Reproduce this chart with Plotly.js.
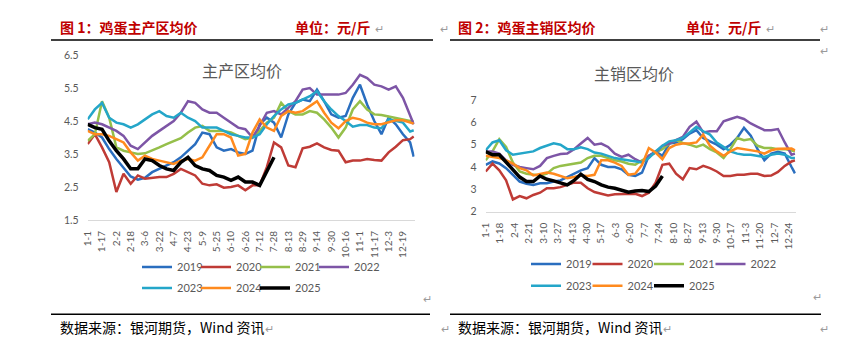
<!DOCTYPE html>
<html><head><meta charset="utf-8">
<script src="https://cdn.plot.ly/plotly-3.0.1.min.js"></script>
<style>html,body{margin:0;padding:0;background:#fff;}#chart{width:848px;height:349px;}</style>
</head><body><div id="chart"></div>
<script>
// ---- data ----
const dates = ['1-1','1-9','1-17','1-25','2-2','2-10','2-18','2-26','3-6','3-14','3-22','3-30','4-7','4-15','4-23','5-1','5-9','5-17','5-25','6-2','6-10','6-18','6-26','7-4','7-12','7-20','7-28','8-5','8-13','8-21','8-29','9-6','9-14','9-22','9-30','10-8','10-16','10-24','11-1','11-9','11-17','11-25','12-3','12-11','12-19','12-27','12-31'];
const years = ['2019','2020','2021','2022','2023','2024','2025'];
const ticks1 = ['1-1','1-17','2-2','2-18','3-6','3-22','4-7','4-23','5-9','5-25','6-10','6-26','7-12','7-28','8-13','8-29','9-14','9-30','10-16','11-1','11-17','12-3','12-19'];
const ticks2 = ['1-1','1-18','2-4','2-21','3-10','3-27','4-13','4-30','5-17','6-3','6-20','7-7','7-24','8-10','8-27','9-13','9-30','10-17','11-3','11-20','12-7','12-24'];
const yticks1 = [1.5,2.5,3.5,4.5,5.5,6.5];
const yticks2 = [2,3,4,5,6,7];

// 主产区均价
const prod2019 = [4.25,4.15,4.0,3.65,3.35,3.1,2.82,2.72,2.78,2.95,3.05,3.15,3.25,3.4,3.6,3.8,4.15,4.1,3.7,3.6,3.65,3.55,3.5,3.6,4.4,4.6,4.45,4.0,4.7,5.05,5.15,5.1,5.45,5.1,4.7,4.6,4.65,5.2,5.6,5.0,4.5,4.1,4.6,4.4,4.1,3.85,3.42];
const prod2020 = [3.8,4.1,3.7,3.25,2.35,2.9,2.6,2.85,2.75,2.78,2.8,2.8,2.9,3.05,2.95,2.85,2.6,2.55,2.58,2.48,2.5,2.55,2.4,2.55,2.55,3.1,3.85,3.7,3.15,3.1,3.67,3.72,3.82,3.7,3.62,3.6,3.25,3.3,3.3,3.35,3.32,3.3,3.55,3.72,3.92,3.95,4.03];
const prod2021 = [3.9,4.1,5.1,4.6,3.7,3.6,3.55,3.5,3.52,3.6,3.7,3.8,3.9,3.98,4.15,4.3,4.35,4.2,4.2,4.2,4.15,4.05,3.95,4.0,4.2,4.45,4.6,5.05,4.8,4.7,4.7,4.8,4.75,4.55,4.3,4.0,4.3,4.85,5.1,4.85,4.7,4.68,4.63,4.6,4.55,4.5,4.48];
const prod2022 = [4.4,4.45,4.4,4.3,4.2,4.05,3.75,3.65,3.85,4.05,4.2,4.35,4.5,4.75,5.1,5.05,4.85,4.75,4.75,4.6,4.45,4.3,4.25,4.0,4.35,4.75,4.8,4.7,4.9,5.1,5.45,5.5,5.3,5.3,5.3,5.3,5.35,5.6,5.9,5.8,5.6,5.55,5.45,5.55,5.2,4.7,4.4];
const prod2023 = [4.55,4.85,5.05,4.6,4.45,4.4,4.3,4.4,4.55,4.7,4.8,4.65,4.6,4.75,4.6,4.5,4.3,4.3,4.3,4.2,4.1,4.05,4.0,4.0,4.1,4.4,4.65,4.85,5.0,5.05,5.15,5.25,5.4,5.1,4.85,4.65,4.5,4.33,4.38,4.38,4.3,4.28,4.55,4.5,4.45,4.18,4.22];
const prod2024 = [4.2,4.1,4.1,4.05,3.95,3.85,3.55,3.3,3.45,3.35,3.3,3.25,3.2,3.3,3.35,3.3,3.4,3.75,4.1,4.1,4.0,3.45,3.5,4.15,4.55,4.3,4.2,4.65,4.8,4.75,4.8,4.95,5.1,4.75,4.45,4.28,4.5,4.6,4.55,4.45,4.4,4.4,4.45,4.52,4.52,4.45,4.42];
const prod2025 = [4.4,4.3,4.25,3.9,3.6,3.35,3.05,3.05,3.35,3.3,3.15,3.05,3.0,3.25,3.4,3.15,3.05,3.0,2.85,2.8,2.7,2.8,2.65,2.65,2.55,2.95,3.4];

// 主销区均价
const sale2019 = [4.1,4.25,4.16,3.95,3.65,3.35,3.25,3.2,3.27,3.27,3.35,3.4,3.55,3.7,3.85,3.95,4.4,4.1,4.0,4.0,3.9,3.65,3.6,3.75,4.5,4.7,4.5,5.05,5.1,5.25,5.5,5.65,5.3,5.15,5.0,4.8,5.0,5.3,5.75,5.4,4.8,4.3,4.6,4.68,4.6,4.0,3.72];
const sale2020 = [3.8,4.15,3.85,3.4,2.55,2.7,2.6,2.75,2.85,3.05,3.05,3.1,3.2,3.3,3.3,3.05,2.88,2.8,2.73,2.78,2.78,2.78,2.8,2.7,2.85,3.3,4.1,4.15,3.7,3.45,3.95,3.9,4.05,3.95,3.8,3.6,3.6,3.65,3.65,3.7,3.7,3.6,3.62,3.78,4.05,4.25,4.3];
const sale2021 = [4.3,4.7,5.25,4.9,4.2,3.8,3.7,3.65,3.62,3.7,3.95,4.05,4.1,4.15,4.2,4.4,4.5,4.5,4.4,4.3,4.25,4.15,4.1,4.3,4.45,4.65,4.8,5.05,5.2,5.08,5.0,4.9,5.0,4.8,4.65,4.4,4.8,5.3,5.2,5.25,4.95,4.85,4.85,4.8,4.8,4.75,4.7];
const sale2022 = [4.7,4.7,4.6,4.3,4.1,4.0,3.95,3.9,4.05,4.4,4.5,4.58,4.6,4.8,5.05,5.3,5.0,5.05,4.9,4.6,4.45,4.55,4.35,4.2,4.5,4.65,4.95,5.05,5.2,5.35,5.8,6.03,5.55,5.6,5.6,6.05,6.15,6.25,6.15,5.95,5.8,5.65,5.65,5.7,5.1,4.55,4.6];
const sale2023 = [4.75,5.1,5.2,4.75,4.55,4.6,4.62,4.7,4.85,4.95,5.06,5.0,4.8,4.8,4.88,4.8,4.65,4.6,4.5,4.4,4.35,4.3,4.25,4.2,4.4,4.7,4.95,5.15,5.2,5.3,5.55,5.8,5.6,5.45,5.1,4.9,4.7,4.6,4.55,4.55,4.5,4.45,4.55,4.6,4.55,4.4,4.4];
const sale2024 = [4.5,4.45,4.4,4.3,4.15,3.95,3.85,3.62,3.7,3.75,3.7,3.6,3.5,3.55,3.62,3.6,3.65,4.3,4.3,4.2,4.05,3.65,3.7,4.1,4.85,4.65,4.35,4.85,5.0,5.05,5.05,5.1,5.45,4.95,4.7,4.5,4.7,4.85,4.8,4.75,4.7,4.6,4.75,4.82,4.83,4.83,4.75];
const sale2025 = [4.69,4.55,4.55,4.2,3.9,3.55,3.35,3.35,3.6,3.45,3.38,3.3,3.2,3.4,3.68,3.45,3.35,3.2,3.1,3.05,2.97,2.87,2.93,2.95,2.9,3.15,3.6];

// ---- drawing ----
const prodSeries = [prod2019,prod2020,prod2021,prod2022,prod2023,prod2024,prod2025];
const saleSeries = [sale2019,sale2020,sale2021,sale2022,sale2023,sale2024,sale2025];
const colors = ['#2A6EBF','#BF3B36','#95BF4A','#7D55A6','#24A6C9','#FF8A1E','#000000'];
const widths = [2.5,2.5,2.5,2.5,2.5,2.5,3.5];
const CUM = [0,31,59,90,120,151,181,212,243,273,304,334];
function dayOfYear(md){ const p = md.split('-').map(Number); return CUM[p[0]-1] + p[1] - 1; }
const days = dates.map(dayOfYear);

const W = 848, H = 349;
const X = p => p / W, Y = p => 1 - p / H;
const CJK = "'Noto Sans CJK SC', sans-serif";
const NUM = "Lato, 'Liberation Sans', sans-serif";

const traces = [];
prodSeries.forEach((s, i) => traces.push({
  x: days.slice(0, s.length), y: s, type: 'scatter', mode: 'lines', name: years[i],
  line: {color: colors[i], width: widths[i]}, xaxis: 'x', yaxis: 'y',
  legend: i < 4 ? 'legend' : 'legend2', hoverinfo: 'skip'
}));
saleSeries.forEach((s, i) => traces.push({
  x: days.slice(0, s.length), y: s, type: 'scatter', mode: 'lines', name: years[i],
  line: {color: colors[i], width: widths[i]}, xaxis: 'x2', yaxis: 'y2',
  legend: i < 4 ? 'legend3' : 'legend4', hoverinfo: 'skip'
}));
// blank spacer entries so the last legend label of each row is not clipped
['legend','legend2','legend3','legend4'].forEach((lg, k) => traces.push({
  x: [null], y: [null], type: 'scatter', mode: 'lines', name: ' ', showlegend: true,
  line: {color: 'rgba(0,0,0,0)', width: 0}, xaxis: k < 2 ? 'x' : 'x2', yaxis: k < 2 ? 'y' : 'y2',
  legend: lg, hoverinfo: 'skip'
}));

function xax(dom, ticks, anchor){
  return {domain: dom, range: [0, 365], tickmode: 'array', tickvals: ticks.map(dayOfYear), ticktext: ticks,
    tickangle: -90, showline: true, linecolor: '#d9d9d9', linewidth: 1, showgrid: false, zeroline: false,
    ticks: '', tickfont: {family: NUM, size: 10, color: '#595959'}, ticklabelstandoff: 6, anchor: anchor, fixedrange: true};
}
function yax(dom, rng, vals, fmt, anchor){
  return {domain: dom, range: rng, tickmode: 'array', tickvals: vals, ticktext: vals.map(v => v.toFixed(fmt)),
    showline: false, showgrid: false, zeroline: false, ticks: '',
    tickfont: {family: NUM, size: 10.5, color: '#595959'}, ticklabelstandoff: 8, anchor: anchor, fixedrange: true};
}
function leg(x, y, ew){
  return {orientation: 'h', x: X(x), xanchor: 'left', y: Y(y), yanchor: 'middle',
    font: {family: NUM, size: 11, color: '#595959'}, bgcolor: 'rgba(0,0,0,0)', itemwidth: 30,
    entrywidth: ew, traceorder: 'normal'};
}
function txt(t, x, y, size, color, anchor, fam){
  return {text: t, x: X(x), y: Y(y), xref: 'paper', yref: 'paper', xanchor: anchor || 'left', yanchor: 'middle',
    showarrow: false, font: {family: fam || CJK, size: size, color: color}};
}
function hline(x0, x1, y, w){
  return {type: 'line', xref: 'paper', yref: 'paper', x0: X(x0), x1: X(x1), y0: Y(y), y1: Y(y),
    line: {color: '#000', width: w}};
}
const MARK = '#9a9a9a';
const layout = {
  width: W, height: H, margin: {l: 0, r: 0, t: 0, b: 0},
  paper_bgcolor: '#ffffff', plot_bgcolor: 'rgba(0,0,0,0)', showlegend: true,
  xaxis: xax([X(87.7), X(414.6)], ticks1, 'y'),
  yaxis: yax([Y(220), Y(55)], [1.5, 6.5], yticks1, 1, 'x'),
  xaxis2: xax([X(485.7), X(795.8)], ticks2, 'y2'),
  yaxis2: yax([Y(211.7), Y(100)], [2, 7], yticks2, 0, 'x2'),
  legend: leg(137, 267, 14), legend2: leg(137, 288, 14),
  legend3: leg(526, 264, 16.5), legend4: leg(526, 285.7, 16.5),
  shapes: [hline(51, 433, 40, 1.5), hline(450, 820, 40, 1.5), hline(51, 430, 314.3, 1.5), hline(450, 821, 314.3, 1.5)],
  annotations: [
    txt('<b>图 1：鸡蛋主产区均价</b>', 58, 27, 14, '#C00000'),
    txt('<b>单位：元/斤</b>', 293, 27, 14, '#C00000'),
    txt('↵', 373, 28, 11, MARK),
    txt('↵', 438, 28, 11, MARK),
    txt('<b>图 2：鸡蛋主销区均价</b>', 456, 27, 14, '#C00000'),
    txt('<b>单位：元/斤</b>', 684, 27, 14, '#C00000'),
    txt('↵', 764, 28, 11, MARK),
    txt('↵', 818, 28, 11, MARK),
    txt('↵', 818, 50, 11, MARK),
    txt('主产区均价', 242, 70, 16, '#595959', 'center'),
    txt('主销区均价', 634, 73, 16, '#595959', 'center'),
    txt('↵', 421, 298, 11, MARK),
    txt('↵', 811, 296, 11, MARK),
    txt('数据来源：银河期货，Wind 资讯', 58, 327, 14, '#000'),
    txt('↵', 263, 328, 11, MARK),
    txt('↵', 439, 328, 11, MARK),
    txt('数据来源：银河期货，Wind 资讯', 456, 327, 14, '#000'),
    txt('↵', 661, 328, 11, MARK),
    txt('↵', 818, 328, 11, MARK)
  ]
};
Plotly.newPlot('chart', traces, layout, {staticPlot: true, displayModeBar: false});
</script>
</body></html>
